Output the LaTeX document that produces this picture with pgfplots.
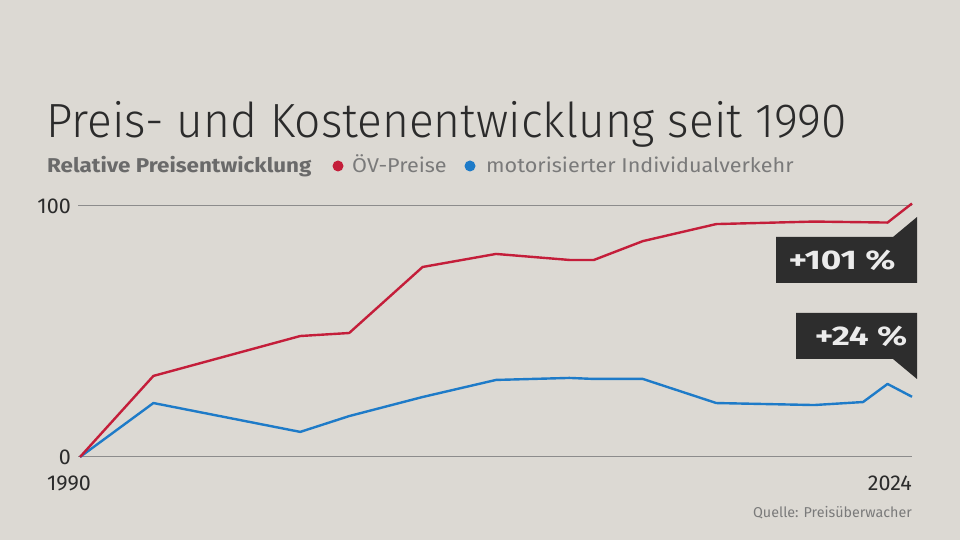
\documentclass[border=0pt]{standalone}
\usepackage{pgfplots}
\pgfplotsset{compat=1.18}
\usepackage{fontspec}
\setmainfont{Fira Sans}
\newfontfamily\lightfont{Fira Sans Light}[FakeStretch=0.96]
\newfontfamily\subfont{Fira Sans}[FakeStretch=1.12]
\newfontfamily\legfont{Fira Sans}[FakeStretch=1.08]
\newfontfamily\boxfont{Fira Sans}[FakeStretch=1.3]
\definecolor{bg}{HTML}{DCD9D3}
\definecolor{redline}{HTML}{C41E3A}
\definecolor{blueline}{HTML}{1E7BC8}
\definecolor{titlec}{HTML}{2B2B2B}
\definecolor{subc}{HTML}{6A6A6A}
\definecolor{legc}{HTML}{7A7A7A}
\definecolor{gridc}{HTML}{8C8C8C}
\definecolor{boxc}{HTML}{2D2D2D}
\begin{document}
\begin{tikzpicture}[x=1pt,y=1pt]
\fill[bg] (0,0) rectangle (960,540);
% title
\node[anchor=base west, inner sep=0, text=titlec] at (46,402) {\lightfont\fontsize{48}{56}\selectfont Preis- und Kostenentwicklung seit 1990};
\node[anchor=base west, inner sep=0, text=subc] at (47,367) {\subfont\fontsize{20}{24}\selectfont\bfseries Relative Preisentwicklung};
\fill[redline] (338,374) circle (5.5);
\node[anchor=base west, inner sep=0, text=legc] at (352,367) {\legfont\fontsize{20}{24}\selectfont ÖV-Preise};
\fill[blueline] (470,374) circle (5.5);
\node[anchor=base west, inner sep=0, text=legc] at (486,367) {\legfont\fontsize{20}{24}\selectfont motorisierter Individualverkehr};
% grid lines
\draw[gridc, line width=1pt] (78,83) -- (912,83);
\draw[gridc, line width=1pt] (78,334) -- (912,334);
\node[anchor=east, inner sep=0, text=titlec] at (71,83) {\fontsize{21.5}{24}\selectfont 0};
\node[anchor=east, inner sep=0, text=titlec] at (71,334) {\fontsize{21.5}{24}\selectfont 100};
\begin{axis}[
  at={(80pt,83pt)}, anchor=south west,
  scale only axis, width=832pt, height=251pt,
  xmin=1990, xmax=2024, ymin=0, ymax=100,
  axis lines=none, clip=false,
  xtick=\empty, ytick=\empty,
]
\addplot[blueline, line width=2.4pt, line join=round] coordinates {
(1990,0) (1993,21.5) (1999,10) (2001,16.3) (2004,23.9) (2007,30.7) (2010,31.5) (2011,31.1) (2013,31.1) (2016,21.5) (2020,20.7) (2022,21.9) (2023,29.1) (2024,24)
};
\addplot[redline, line width=2.4pt, line join=round] coordinates {
(1990,0) (1993,32.3) (1999,48.2) (2001,49.4) (2004,75.7) (2007,80.9) (2010,78.5) (2011,78.5) (2013,86) (2016,92.8) (2020,93.8) (2023,93.4) (2024,101)
};
\end{axis}
% x labels
\node[anchor=base, inner sep=0, text=titlec] at (69,49) {\fontsize{21.5}{24}\selectfont 1990};
\node[anchor=base east, inner sep=0, text=titlec] at (912,49) {\fontsize{21.5}{24}\selectfont 2024};
\node[anchor=base east, inner sep=0, text=legc] at (912,22) {\fontsize{14.3}{17}\selectfont Quelle: Preisüberwacher};
% annotation boxes
\fill[boxc] (776,303) -- (893,303) -- (917,323) -- (917,257) -- (776,257) -- cycle;
\node[text=white!92!black, inner sep=0] at (842,280) {\boxfont\fontsize{27}{30}\selectfont\bfseries +101 \%};
\fill[boxc] (796,227) -- (917,227) -- (917,161) -- (893,181) -- (796,181) -- cycle;
\node[text=white!92!black, inner sep=0] at (861,204) {\boxfont\fontsize{27}{30}\selectfont\bfseries +24 \%};
\end{tikzpicture}
\end{document}
